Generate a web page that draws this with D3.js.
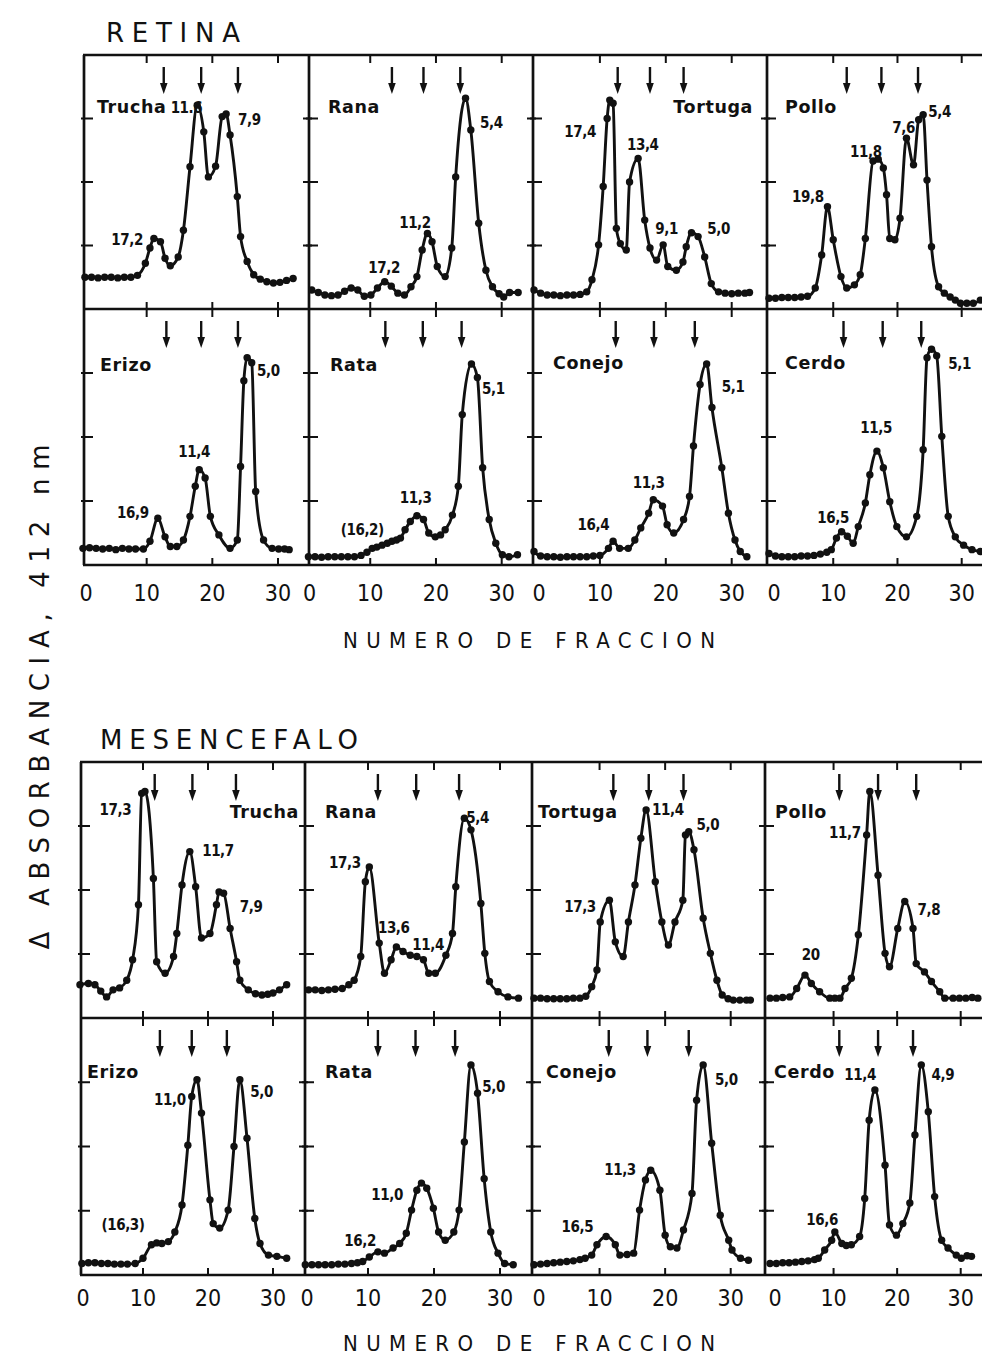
<!DOCTYPE html>
<html>
<head>
<meta charset="utf-8">
<script src="https://cdn.jsdelivr.net/npm/d3@7"></script>
<style>
  body { margin: 0; background: #fff; }
  svg text { fill: #111; }
</style>
</head>
<body>
<svg id="fig" width="982" height="1362"></svg>
<script>
// ---------- categories & axis ticks ----------
const tissues = ["RETINA", "MESENCEFALO"];
const speciesRow1 = ["Trucha", "Rana", "Tortuga", "Pollo"];
const speciesRow2 = ["Erizo", "Rata", "Conejo", "Cerdo"];
const fractionTicks = [0, 10, 20, 30];
const absorbanceTicks = [1, 2, 3];
const xAxisTitle = "NUMERO DE FRACCION";
const yAxisTitle = "\u0394 ABSORBANCIA, 412 nm";

// ---------- sucrose-gradient profiles: [fraction, ΔA412] ----------
// Retina
const retTrucha = [[0.6,0.5],[1.6,0.5],[2.6,0.49],[3.6,0.5],[4.6,0.5],[5.6,0.49],[6.6,0.5],[7.6,0.5],[8.6,0.53],[9.8,0.72],[10.5,0.96],[11.1,1.11],[12.1,1.06],[12.8,0.8],[13.6,0.68],[14.8,0.82],[15.6,1.24],[16.6,2.24],[17.7,3.21],[18.7,2.79],[19.4,2.08],[20.5,2.25],[21.5,3.03],[22.1,3.07],[22.7,2.74],[23.8,1.77],[24.3,1.14],[25.3,0.75],[26.3,0.54],[27.3,0.47],[28.3,0.43],[29.3,0.41],[30.3,0.42],[31.3,0.45],[32.3,0.48]];
const retRana = [[1.1,0.3],[2.1,0.26],[3.1,0.22],[4.1,0.21],[5.1,0.22],[6.1,0.28],[7.1,0.33],[8.1,0.3],[9.1,0.2],[10.1,0.22],[11.1,0.33],[12.2,0.43],[13.2,0.36],[14.2,0.25],[15.2,0.22],[16.2,0.35],[17.1,0.51],[17.9,0.93],[18.7,1.19],[19.4,1.06],[20.2,0.67],[21.4,0.51],[22.4,0.96],[23.0,2.08],[24.5,3.32],[25.3,2.82],[26.5,1.35],[27.6,0.61],[28.6,0.35],[29.6,0.24],[30.3,0.19],[31.2,0.26],[32.5,0.26]];
const retTortuga = [[0,0.3],[1,0.25],[2,0.22],[3,0.22],[4,0.21],[5,0.22],[6,0.22],[7,0.23],[8,0.27],[8.8,0.46],[9.8,1.01],[10.5,1.93],[11.1,3.0],[11.5,3.29],[12.0,3.24],[12.5,1.27],[13.1,1.03],[14.0,0.93],[14.5,2.0],[15.8,2.37],[16.8,1.4],[17.6,0.96],[18.6,0.77],[19.6,1.01],[20.3,0.67],[21.6,0.61],[22.6,0.74],[23.1,0.98],[23.9,1.2],[24.9,1.14],[25.9,0.82],[26.9,0.4],[28.0,0.27],[29,0.25],[30,0.24],[31,0.25],[32,0.25],[32.7,0.26]];
const retPollo = [[0,0.17],[1,0.17],[2,0.18],[3,0.18],[4,0.18],[5,0.19],[6,0.2],[7.2,0.33],[8.2,0.85],[9.1,1.61],[10.0,1.09],[11.2,0.51],[12.1,0.33],[13.3,0.38],[14.2,0.54],[15.0,1.11],[16.2,2.33],[17.0,2.36],[17.8,2.22],[18.3,1.8],[18.8,1.11],[19.6,1.09],[20.4,1.43],[21.4,2.69],[22.5,2.27],[23.3,2.98],[24.0,3.06],[24.6,2.03],[25.3,0.98],[26.4,0.35],[27.3,0.25],[28.2,0.19],[29,0.14],[29.8,0.09],[30.8,0.09],[31.8,0.09],[32.9,0.14]];
const retErizo = [[0.3,0.26],[1.3,0.27],[2.3,0.26],[3.3,0.25],[4.3,0.26],[5.3,0.24],[6.3,0.26],[7.3,0.25],[8.3,0.25],[9.5,0.25],[10.5,0.37],[11.7,0.73],[12.8,0.44],[13.6,0.29],[14.6,0.29],[15.6,0.39],[16.6,0.76],[17.4,1.23],[18.0,1.49],[18.9,1.36],[19.7,0.76],[21.0,0.47],[22.7,0.26],[23.8,0.39],[24.3,1.54],[24.8,2.88],[25.3,3.24],[26.0,3.16],[26.6,1.15],[27.8,0.39],[29.1,0.26],[30.1,0.25],[31.0,0.25],[31.7,0.24]];
const retRata = [[0.6,0.13],[1.6,0.13],[2.6,0.12],[3.6,0.13],[4.6,0.13],[5.6,0.13],[6.6,0.13],[7.6,0.13],[8.6,0.15],[9.5,0.2],[10.3,0.26],[11.0,0.28],[11.8,0.31],[12.6,0.34],[13.3,0.37],[14.0,0.39],[14.6,0.42],[15.3,0.55],[16.1,0.68],[17.1,0.77],[18.1,0.71],[18.9,0.5],[19.9,0.44],[20.7,0.47],[21.4,0.55],[22.5,0.78],[23.4,1.23],[24.0,2.35],[25.4,3.14],[26.3,2.93],[27.1,1.52],[28.1,0.71],[29.1,0.34],[30.1,0.16],[31.1,0.13],[32.4,0.16]];
const retConejo = [[0,0.21],[1,0.14],[2,0.13],[3,0.13],[4,0.12],[5,0.13],[6,0.13],[7,0.13],[8,0.13],[9,0.14],[10,0.15],[11.3,0.26],[12.0,0.37],[13.0,0.26],[14.3,0.26],[15.3,0.39],[16.2,0.58],[17.4,0.81],[18.1,1.02],[19.5,0.92],[20.2,0.63],[21.2,0.5],[22.7,0.71],[23.6,1.07],[24.2,1.86],[25.2,2.82],[26.2,3.14],[27.0,2.46],[28.5,1.52],[29.5,0.81],[30.5,0.39],[31.3,0.21],[32.3,0.13]];
const retCerdo = [[0,0.18],[1,0.14],[2,0.13],[3,0.13],[4,0.13],[5,0.14],[6,0.14],[7,0.15],[8,0.17],[9,0.2],[9.7,0.24],[10.5,0.42],[11.3,0.52],[12.2,0.45],[13.1,0.34],[13.9,0.6],[15.0,0.97],[15.7,1.41],[16.8,1.78],[17.8,1.52],[18.8,0.99],[19.9,0.6],[21.4,0.44],[23.0,0.76],[24.0,1.8],[24.6,3.24],[25.3,3.37],[26.1,3.27],[26.9,2.01],[27.9,0.76],[29.0,0.44],[30.3,0.31],[31.6,0.24],[32.9,0.21]];
// Mesencefalo
const mesTrucha = [[0.3,0.52],[1.6,0.54],[2.6,0.52],[3.5,0.42],[4.4,0.33],[5.4,0.44],[6.4,0.47],[7.5,0.59],[8.4,0.91],[9.3,1.77],[9.8,3.51],[10.3,3.54],[11.6,2.18],[12.1,0.88],[13.4,0.7],[14.7,0.96],[15.2,1.32],[16.0,2.08],[17.2,2.6],[18.1,2.05],[19.0,1.25],[20.3,1.32],[21.3,1.77],[21.7,1.97],[22.4,1.95],[23.4,1.4],[24.4,0.88],[24.9,0.59],[26.2,0.44],[27.3,0.38],[28.3,0.36],[29.2,0.37],[30.0,0.39],[31.0,0.44],[32.1,0.52]];
const mesRana = [[1,0.44],[2,0.44],[3,0.43],[4,0.44],[5,0.45],[6.1,0.46],[7.1,0.52],[7.9,0.59],[8.9,0.96],[9.6,2.13],[10.2,2.36],[11.7,1.17],[12.5,0.7],[13.5,0.91],[14.3,1.11],[15.3,1.04],[16.4,0.98],[17.4,0.96],[18.4,0.91],[19.2,0.7],[20.2,0.7],[21.8,0.98],[22.8,1.32],[23.3,2.05],[24.6,3.12],[25.6,2.94],[27.1,1.79],[27.7,1.01],[28.4,0.57],[29.7,0.41],[31.2,0.33],[32.8,0.31]];
const mesTortuga = [[0,0.31],[1,0.31],[2,0.3],[3,0.3],[4,0.3],[5,0.3],[6,0.31],[7,0.31],[7.9,0.34],[8.8,0.49],[9.6,0.75],[10.1,1.5],[11.5,1.84],[12.4,1.19],[13.6,0.96],[14.4,1.5],[15.4,2.08],[16.3,2.81],[17.1,3.25],[18.5,2.13],[19.5,1.5],[20.5,1.14],[21.5,1.5],[22.7,1.84],[23.1,2.86],[23.6,2.91],[24.4,2.63],[25.8,1.56],[26.9,1.01],[27.9,0.59],[28.7,0.36],[29.6,0.3],[30.4,0.28],[31.4,0.28],[32.4,0.28],[33,0.28]];
const mesPollo = [[0,0.31],[1,0.31],[2,0.32],[3.1,0.33],[4.2,0.46],[5.5,0.67],[6.5,0.54],[7.8,0.41],[9.4,0.31],[10.2,0.31],[11.0,0.31],[11.8,0.46],[12.8,0.62],[13.9,1.3],[15.2,2.86],[15.7,3.54],[17.0,2.23],[18.1,1.01],[18.8,0.8],[20.1,1.4],[21.2,1.82],[22.5,1.4],[23.0,0.85],[24.3,0.72],[25.4,0.57],[26.7,0.41],[27.5,0.31],[28.8,0.31],[29.8,0.31],[30.8,0.31],[31.8,0.32],[32.7,0.31]];
const mesErizo = [[0.6,0.18],[1.6,0.19],[2.6,0.19],[3.6,0.18],[4.6,0.18],[5.6,0.17],[6.6,0.17],[7.6,0.17],[8.8,0.18],[10.0,0.26],[11.3,0.47],[12.1,0.5],[12.9,0.49],[13.9,0.52],[14.9,0.67],[16.0,1.09],[16.9,2.02],[17.5,2.78],[18.3,3.04],[19.0,2.52],[20.3,1.17],[20.8,0.8],[21.8,0.73],[23.1,1.01],[24.0,2.0],[24.9,3.04],[26.0,2.13],[27.2,0.88],[28.0,0.49],[29.3,0.31],[30.6,0.29],[32.1,0.26]];
const mesRata = [[0.5,0.16],[1.5,0.16],[2.5,0.16],[3.5,0.16],[4.5,0.16],[5.5,0.17],[6.5,0.17],[7.5,0.18],[8.4,0.19],[9.2,0.21],[10.2,0.28],[11.5,0.36],[12.5,0.34],[13.8,0.42],[14.8,0.49],[15.8,0.65],[16.6,1.01],[17.4,1.32],[18.1,1.43],[18.9,1.35],[19.9,1.04],[20.7,0.67],[21.7,0.54],[23.0,0.67],[23.8,1.01],[24.6,2.07],[25.6,3.27],[26.6,2.83],[27.6,1.5],[28.6,0.67],[29.7,0.34],[30.7,0.18],[32.0,0.16]];
const mesConejo = [[0,0.16],[1,0.17],[2,0.18],[3,0.19],[4,0.2],[5,0.21],[6,0.22],[7,0.24],[7.8,0.26],[8.8,0.31],[9.6,0.47],[11.0,0.6],[12.4,0.47],[13.1,0.31],[14.2,0.32],[15.2,0.34],[16.1,1.01],[17.0,1.48],[17.8,1.63],[19.2,1.32],[20.0,0.62],[20.8,0.44],[21.8,0.42],[22.8,0.7],[24.1,1.27],[24.8,2.72],[25.8,3.27],[27.1,2.05],[28.4,0.93],[29.7,0.54],[30.2,0.39],[31.5,0.26],[32.7,0.23]];
const mesCerdo = [[0,0.18],[1,0.18],[2,0.19],[3,0.19],[4,0.2],[5,0.21],[6,0.22],[7,0.24],[7.6,0.26],[8.6,0.39],[9.7,0.54],[10.2,0.67],[11.3,0.49],[12.0,0.46],[12.8,0.47],[14.1,0.6],[14.9,1.19],[15.6,2.41],[16.5,2.88],[18.1,1.71],[18.8,0.78],[19.9,0.62],[20.9,0.8],[22.0,1.12],[22.8,2.18],[23.8,3.27],[24.9,2.54],[25.9,1.22],[27.0,0.54],[28.0,0.42],[29.3,0.31],[30.1,0.26],[31.0,0.3],[31.7,0.29]];

// ---------- sedimentation coefficients of the peaks: [text, fraction, ΔA412] ----------
const retTruchaPeaks = [["17,2",4.6,1.01],["11.6",13.65,3.09],["7,9",23.9,2.9]];
const retRanaPeaks = [["17,2",9.7,0.57],["11,2",14.4,1.28],["5,4",26.7,2.85]];
const retTortugaPeaks = [["17,4",4.6,2.71],["13,4",14.1,2.5],["9,1",18.4,1.18],["5,0",26.3,1.18]];
const retPolloPeaks = [["19,8",3.6,1.69],["11,8",12.6,2.39],["7,6",19.2,2.77],["5,4",24.8,3.02]];
const retErizoPeaks = [["16,9",5.5,0.74],["11,4",14.8,1.69],["5,0",26.8,2.96]];
const retRataPeaks = [["(16,2)",5.5,0.47],["11,3",14.5,0.97],["5,1",27.0,2.67]];
const retConejoPeaks = [["16,4",6.6,0.55],["11,3",15.0,1.21],["5,1",28.5,2.71]];
const retCerdoPeaks = [["16,5",7.5,0.66],["11,5",14.2,2.07],["5,1",27.9,3.06]];
const mesTruchaPeaks = [["17,3",3.3,3.17],["11,7",19.1,2.53],["7,9",24.9,1.66]];
const mesRanaPeaks = [["17,3",4.1,2.34],["13,6",11.5,1.33],["11,4",16.7,1.06],["5,4",24.9,3.05]];
const mesTortugaPeaks = [["17,3",4.6,1.66],["11,4",18.0,3.17],["5,0",24.8,2.94]];
const mesPolloPeaks = [["20",5.0,0.91],["11,7",9.3,2.81],["7,8",23.2,1.61]];
const mesErizoPeaks = [["(16,3)",3.6,0.7],["11,0",11.7,2.65],["5,0",26.5,2.77]];
const mesRataPeaks = [["16,2",6.4,0.45],["11,0",10.5,1.17],["5,0",27.3,2.85]];
const mesConejoPeaks = [["16,5",4.2,0.67],["11,3",10.7,1.56],["5,0",27.6,2.96]];
const mesCerdoPeaks = [["16,6",5.7,0.78],["11,4",11.7,3.04],["4,9",25.4,3.04]];

// ---------- reference-marker fractions (arrows) ----------
const retMarkers = [[12.6,18.3,23.9],[13.3,18.1,23.7],[12.7,17.6,22.7],[12.1,17.5,23.2],
                    [13.0,18.3,23.9],[12.3,18.0,23.9],[12.4,18.2,24.4],[11.6,17.7,23.7]];
const mesMarkers = [[11.8,17.6,24.3],[11.5,17.3,23.8],[12.1,17.5,22.8],[10.9,17.0,23.0],
                    [12.6,17.5,22.9],[11.5,17.2,23.2],[11.4,17.3,23.6],[10.9,17.0,22.5]];

// ---------- page layout ----------
const blocks = [
  { title: tissues[0], titleX: 106, titleY: 42, titleW: 134,
    colEdges: [84, 309, 533, 767, 992], rowEdges: [55, 309, 565],
    x0: [81, 304.5, 534, 769], x30: [278, 501.7, 731.7, 961.7],
    tickLabelY: 601, axisTitleY: 648,
    profiles: [retTrucha, retRana, retTortuga, retPollo, retErizo, retRata, retConejo, retCerdo],
    peaks: [retTruchaPeaks, retRanaPeaks, retTortugaPeaks, retPolloPeaks, retErizoPeaks, retRataPeaks, retConejoPeaks, retCerdoPeaks],
    markers: retMarkers,
    namePos: [["start",13,58],["start",19,58],["end",-14,58],["start",18,58],
              ["start",16,62],["start",21,62],["start",20,60],["start",18,60]] },
  { title: tissues[1], titleX: 100, titleY: 749, titleW: 258,
    colEdges: [81, 305, 532, 765, 990], rowEdges: [762, 1018, 1275],
    x0: [78, 302, 534, 770], x30: [273, 500, 730.7, 960.7],
    tickLabelY: 1306, axisTitleY: 1351,
    profiles: [mesTrucha, mesRana, mesTortuga, mesPollo, mesErizo, mesRata, mesConejo, mesCerdo],
    peaks: [mesTruchaPeaks, mesRanaPeaks, mesTortugaPeaks, mesPolloPeaks, mesErizoPeaks, mesRataPeaks, mesConejoPeaks, mesCerdoPeaks],
    markers: mesMarkers,
    namePos: [["end",-6,56],["start",20,56],["start",6,56],["start",10,56],
              ["start",6,60],["start",20,60],["start",14,60],["start",9,60]] }
];

const svg = d3.select("#fig");
const INK = "#111";
const numFont = "'DejaVu Sans Condensed','DejaVu Sans',sans-serif";
const narrowFont = "'Liberation Sans Narrow','DejaVu Sans Condensed',sans-serif";

blocks.forEach(b => {
  const g = svg.append("g");
  const species = speciesRow1.concat(speciesRow2);

  // block title
  g.append("text").attr("x", b.titleX).attr("y", b.titleY)
    .attr("textLength", b.titleW).attr("lengthAdjust", "spacing")
    .style("font-family", "'DejaVu Sans',sans-serif").style("font-size", "26px")
    .text(b.title);

  const xScales = b.x0.map((x0, c) => d3.scaleLinear().domain([0, 30]).range([x0, b.x30[c]]));
  const yScales = [0, 1].map(r => d3.scaleLinear().domain([0, 4]).range([b.rowEdges[r + 1], b.rowEdges[r]]));

  // frame: outer box and dividers
  const left = b.colEdges[0], right = b.colEdges[4];
  b.rowEdges.forEach(y => g.append("line").attr("x1", left - 1).attr("x2", right).attr("y1", y).attr("y2", y)
    .attr("stroke", INK).attr("stroke-width", 2.7));
  b.colEdges.forEach(x => g.append("line").attr("x1", x).attr("x2", x).attr("y1", b.rowEdges[0]).attr("y2", b.rowEdges[2])
    .attr("stroke", INK).attr("stroke-width", 2.7));

  for (let r = 0; r < 2; r++) {
    for (let c = 0; c < 4; c++) {
      const k = r * 4 + c;
      const x = xScales[c], y = yScales[r];
      const top = b.rowEdges[r], bottom = b.rowEdges[r + 1];
      const pl = b.colEdges[c], pr = b.colEdges[c + 1];
      const p = g.append("g");

      // fraction ticks along top and bottom edges
      fractionTicks.filter(t => t > 0).forEach(t => {
        p.append("line").attr("x1", x(t)).attr("x2", x(t)).attr("y1", top).attr("y2", top + 8)
          .attr("stroke", INK).attr("stroke-width", 2);
        p.append("line").attr("x1", x(t)).attr("x2", x(t)).attr("y1", bottom).attr("y2", bottom - 7)
          .attr("stroke", INK).attr("stroke-width", 2);
      });
      // absorbance ticks on both side edges
      absorbanceTicks.forEach(v => {
        [pl, pr].forEach((ex, i) => {
          p.append("line").attr("x1", ex - (i === 0 ? 3 : 6)).attr("x2", ex + (i === 0 ? 9 : 3))
            .attr("y1", y(v)).attr("y2", y(v)).attr("stroke", INK).attr("stroke-width", 2);
        });
      });

      // reference markers
      b.markers[k].forEach(f => {
        const ax = x(f);
        p.append("line").attr("x1", ax).attr("x2", ax).attr("y1", top + 12).attr("y2", top + 30)
          .attr("stroke", INK).attr("stroke-width", 2.4);
        p.append("path").attr("d", `M${ax - 3.8},${top + 28} L${ax + 3.8},${top + 28} L${ax},${top + 39} Z`)
          .attr("fill", INK);
      });

      // profile line + fraction dots
      const prof = b.profiles[k];
      const line = d3.line().x(d => x(d[0])).y(d => y(d[1])).curve(d3.curveMonotoneX);
      p.append("path").datum(prof).attr("d", line).attr("fill", "none")
        .attr("stroke", INK).attr("stroke-width", 2.9).attr("stroke-linejoin", "round");
      p.selectAll("circle").data(prof).join("circle")
        .attr("cx", d => x(d[0])).attr("cy", d => y(d[1])).attr("r", 3.7).attr("fill", INK);

      // peak annotations
      b.peaks[k].forEach(([txt, f, v]) => {
        p.append("text").attr("x", x(f)).attr("y", y(v))
          .style("font-family", numFont).style("font-weight", "bold").style("font-size", "15px")
          .style("letter-spacing", "-0.4px")
          .text(txt);
      });

      // species name
      const [anchor, dx, dy] = b.namePos[k];
      p.append("text").attr("x", anchor === "start" ? pl + dx : pr + dx).attr("y", top + dy)
        .attr("text-anchor", anchor)
        .style("font-family", "'DejaVu Sans',sans-serif").style("font-weight", "bold")
        .style("font-size", "17.5px").style("letter-spacing", "0.6px")
        .text(species[k]);

      // fraction tick labels under the bottom row
      if (r === 1) {
        fractionTicks.forEach(t => {
          g.append("text").attr("x", x(t) + (t === 0 ? 5 : 0)).attr("y", b.tickLabelY)
            .attr("text-anchor", "middle")
            .style("font-family", narrowFont).style("font-size", "23px")
            .text(t);
        });
      }
    }
  }

  // x-axis title
  g.append("text").attr("x", 343).attr("y", b.axisTitleY)
    .attr("textLength", 372).attr("lengthAdjust", "spacing")
    .style("font-family", narrowFont).style("font-size", "22px")
    .text(xAxisTitle);
});

// shared y-axis title
svg.append("text")
  .attr("transform", "translate(49,697) rotate(-90)")
  .attr("text-anchor", "middle")
  .attr("textLength", 505).attr("lengthAdjust", "spacing")
  .style("font-family", "'DejaVu Sans',sans-serif").style("font-size", "26px")
  .text(yAxisTitle);
</script>
</body>
</html>
